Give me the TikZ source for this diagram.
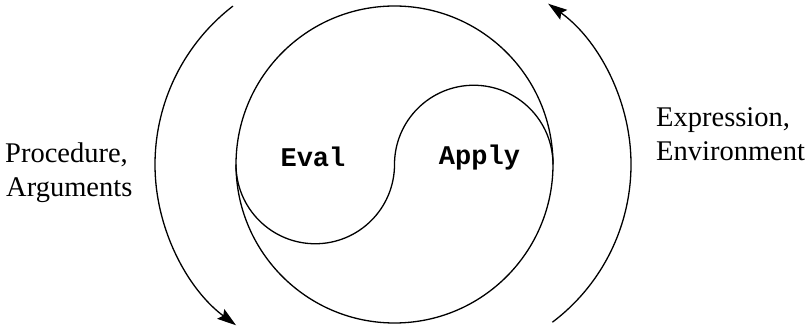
\documentclass[tikz,border=0pt]{standalone}
\usepackage{fontspec}
\setmainfont{Liberation Serif}
\newfontfamily\codefont{Liberation Mono}
\usetikzlibrary{arrows.meta, positioning, calc}

\begin{document}
\begin{tikzpicture}[
    x=1pt, y=1pt,
    curve/.style={line width=1.3pt, black},
    flow/.style={line width=1.3pt, black, -{Stealth[length=19pt, width=12pt, inset=3pt]}},
    label/.style={font=\fontsize{28.5}{33.5}\selectfont, inner sep=0pt, anchor=base west},
    proc/.style={font=\codefont\bfseries\fontsize{27}{30}\selectfont, inner sep=0pt, anchor=base}
]
\useasboundingbox (0,0) rectangle (807,327);

% Centres
\coordinate (mid) at (394.5,162.5);
\coordinate (lctr) at (355,162.5);
\coordinate (rctr) at (433.5,162.5);

% Outer circle
\draw[curve] (mid) circle[radius=158.5];

% The S line between the two halves
\draw[curve] (236,162.5) arc[start angle=180, end angle=360, radius=79.25]
                         arc[start angle=180, end angle=0, radius=79.25];

% Labels inside
\node[proc] (eval) at (313,160) {Eval};
\node[proc] (apply) at (479.5,162) {Apply};

% Flow arcs
\draw[flow] ($(lctr)+(127.6:200)$) arc[start angle=127.6, end angle=233.5, radius=200];
\draw[flow] ($(rctr)+(-53:197.5)$) arc[start angle=-53, end angle=54.5, radius=197.5];

% Outer labels
\node[label] (proc) at (5,164) {Procedure,};
\node[label] (args) at (6,130.5) {Arguments};
\node[label] (expr) at (656,200) {Expression,};
\node[label] (env) at (656,166) {Environment};

\end{tikzpicture}
\end{document}
